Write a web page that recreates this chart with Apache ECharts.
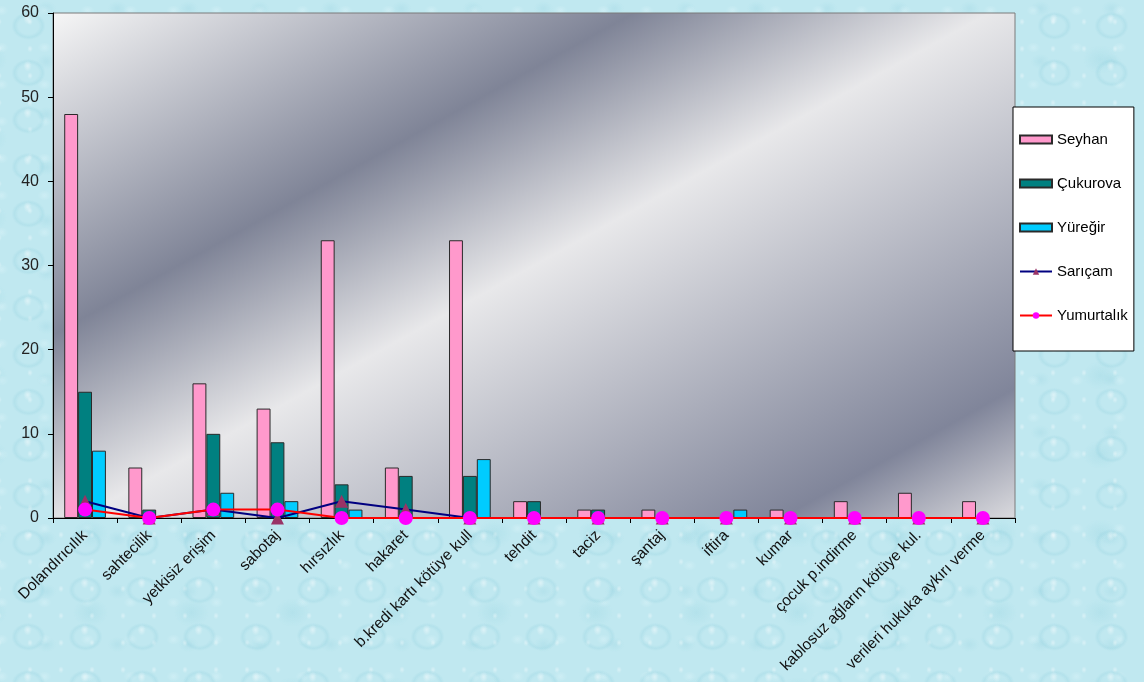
<!DOCTYPE html>
<html>
<head>
<meta charset="utf-8">
<script src="https://cdn.jsdelivr.net/npm/echarts@6/dist/echarts.min.js"></script>
<style>
  html, body { margin: 0; padding: 0; }
  #chart {
    width: 1144px; height: 682px;
    background-color: #c0e8f0;
    background-image:
      radial-gradient(ellipse 6px 8px at 38% 36%, rgba(255,255,255,0.45), rgba(255,255,255,0) 70%),
      radial-gradient(ellipse 17px 14px at 50% 55%, rgba(255,255,255,0) 60%, rgba(115,192,210,0.16) 82%, rgba(115,192,210,0) 100%),
      radial-gradient(ellipse 4px 5px at 42% 40%, rgba(255,255,255,0.4), rgba(255,255,255,0) 70%),
      radial-gradient(ellipse 24px 19px at 50% 50%, rgba(150,212,224,0.3), rgba(150,212,224,0) 75%),
      radial-gradient(ellipse 9px 7px at 50% 50%, rgba(225,246,250,0.4), rgba(225,246,250,0) 75%),
      radial-gradient(ellipse 13px 10px at 50% 50%, rgba(130,200,216,0.18), rgba(130,200,216,0) 75%);
    background-size: 57px 47px, 57px 47px, 31px 27px, 101px 79px, 43px 37px, 71px 53px;
    background-position: 6px 2px, 0 0, 17px 11px, 40px 20px, 23px 29px, 11px 35px;
  }
</style>
</head>
<body>
<div id="chart"></div>
<script>
// Crime categories on the x axis
const categories = [
  'Dolandırıcılık', 'sahtecilik', 'yetkisiz erişim', 'sabotaj', 'hırsızlık',
  'hakaret', 'b.kredi kartı kötüye kull', 'tehdit', 'taciz', 'şantaj',
  'iftira', 'kumar', 'çocuk p.indirme', 'kablosuz ağların kötüye kul.',
  'verileri hukuka aykırı verme'
];

// Case counts per district
const seyhan     = [48, 6, 16, 13, 33, 6, 33, 2, 1, 1, 0, 1, 2, 3, 2];
const cukurova   = [15, 1, 10, 9, 4, 5, 5, 2, 1, 0, 0, 0, 0, 0, 0];
const yuregir    = [8, 0, 3, 2, 1, 0, 7, 0, 0, 0, 1, 0, 0, 0, 0];
const saricam    = [2, 0, 1, 0, 2, 1, 0, 0, 0, 0, 0, 0, 0, 0, 0];
const yumurtalik = [1, 0, 1, 1, 0, 0, 0, 0, 0, 0, 0, 0, 0, 0, 0];

const yTicks = [0, 10, 20, 30, 40, 50, 60];

const FONT = '"Liberation Sans", Arial, sans-serif';
const chart = echarts.init(document.getElementById('chart'));

// plot-area box in pixels
const PLOT = { left: 53, top: 13, right: 1015, bottom: 518 };
const W = 1144, H = 682;

// silver gradient running diagonally across the plot area (isolines tilted ~29°)
const ang = 29 * Math.PI / 180;
const dx = Math.sin(ang), dy = Math.cos(ang);
const span = dx * (PLOT.right - PLOT.left) + dy * (PLOT.bottom - PLOT.top);
const plotFill = new echarts.graphic.LinearGradient(
  PLOT.left, PLOT.top, PLOT.left + dx * span, PLOT.top + dy * span,
  [
    { offset: 0.00, color: '#f6f6f6' },
    { offset: 0.31, color: '#7f8497' },
    { offset: 0.50, color: '#e8e8ea' },
    { offset: 0.875, color: '#80859a' },
    { offset: 1.00, color: '#dadade' }
  ],
  true
);

// a zero count draws no bar (no outline left on the axis)
const bars = (values) => values.map((v) => (v === 0 ? null : v));
const barStyle = (color) => ({ color: color, borderColor: '#2a2a2a', borderWidth: 1 });

chart.setOption({
  backgroundColor: 'transparent',
  animation: false,
  textStyle: { fontFamily: FONT },
  grid: {
    left: PLOT.left, right: W - PLOT.right, top: PLOT.top, bottom: H - PLOT.bottom,
    show: true,
    borderColor: '#7a7a7a',
    borderWidth: 1,
    backgroundColor: plotFill
  },
  legend: {
    orient: 'vertical',
    left: 1013, top: 107,
    padding: [25, 6, 28, 6],
    itemGap: 29,
    itemWidth: 32, itemHeight: 8,
    backgroundColor: '#ffffff',
    borderColor: '#000000',
    borderWidth: 1,
    textStyle: { fontFamily: FONT, fontSize: 15, color: '#000' },
    data: [
      { name: 'Seyhan', icon: 'rect' },
      { name: 'Çukurova', icon: 'rect' },
      { name: 'Yüreğir', icon: 'rect' },
      { name: 'Sarıçam' },
      { name: 'Yumurtalık' }
    ]
  },
  xAxis: {
    type: 'category',
    data: categories,
    axisLine: { lineStyle: { color: '#000', width: 1 } },
    axisTick: { show: true, length: 5, lineStyle: { color: '#000' } },
    axisLabel: {
      rotate: 45, margin: 15, interval: 0,
      fontFamily: FONT, fontSize: 15.5, color: '#111'
    },
    splitLine: { show: false }
  },
  yAxis: {
    type: 'value',
    min: yTicks[0], max: yTicks[yTicks.length - 1], interval: 10,
    axisLine: { show: true, lineStyle: { color: '#000', width: 1 } },
    axisTick: { show: true, length: 5, lineStyle: { color: '#000' } },
    axisLabel: { fontFamily: FONT, fontSize: 16, color: '#222', margin: 14 },
    splitLine: { show: false }
  },
  series: [
    { name: 'Seyhan', type: 'bar', data: bars(seyhan), barGap: '0%', barCategoryGap: '35%', itemStyle: barStyle('#ff99cc') },
    { name: 'Çukurova', type: 'bar', data: bars(cukurova), barGap: '0%', barCategoryGap: '35%', itemStyle: barStyle('#008080') },
    { name: 'Yüreğir', type: 'bar', data: bars(yuregir), barGap: '0%', barCategoryGap: '35%', itemStyle: barStyle('#00ccff') },
    {
      name: 'Sarıçam', type: 'line', data: saricam, z: 3,
      symbol: 'triangle', symbolSize: 13,
      lineStyle: { color: '#000080', width: 2 },
      itemStyle: { color: '#993366', borderWidth: 0 }
    },
    {
      name: 'Yumurtalık', type: 'line', data: yumurtalik, z: 4,
      symbol: 'circle', symbolSize: 14,
      lineStyle: { color: '#ff0000', width: 2 },
      itemStyle: { color: '#ff00ff', borderWidth: 0 }
    }
  ]
});
</script>
</body>
</html>
